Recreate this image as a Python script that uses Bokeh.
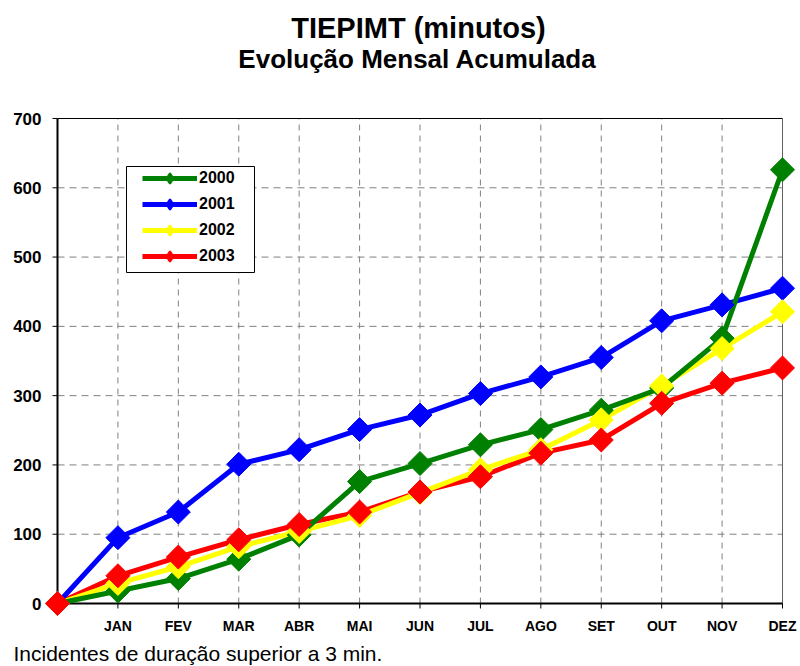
import math

from bokeh.core.properties import value
from bokeh.embed import file_html
from bokeh.models import ColumnDataSource, Label, Legend, LegendItem, Range1d
from bokeh.plotting import figure
from bokeh.resources import INLINE

# ---- data -----------------------------------------------------------------
months = ["JAN", "FEV", "MAR", "ABR", "MAI", "JUN",
          "JUL", "AGO", "SET", "OUT", "NOV", "DEZ"]
years = ["2000", "2001", "2002", "2003"]
acc_2000 = [0, 18, 36, 64, 99, 176, 202, 229, 251, 279, 311, 383, 626]
acc_2001 = [0, 95, 132, 201, 222, 251, 272, 303, 327, 355, 408, 431, 455]
acc_2002 = [0, 29, 53, 82, 104, 127, 160, 193, 222, 265, 314, 368, 421]
acc_2003 = [0, 40, 67, 92, 114, 132, 161, 183, 217, 236, 289, 318, 340]
y_ticks = [0, 100, 200, 300, 400, 500, 600, 700]

title_1 = "TIEPIMT (minutos)"
title_2 = "Evolução Mensal Acumulada"
footnote = "Incidentes de duração superior a 3 min."

# ---- layout ---------------------------------------------------------------
W, H = 800, 666
FONT = "Liberation Sans"
colors = ["#008000", "#0000FF", "#FFFF00", "#FF0000"]

# pixel box of the plotting area; the frame covers the whole canvas so the
# axis texts, titles and edge markers are never clipped
AX_L, AX_R, AX_T, AX_B = 57, 782, 118, 603

n_pts = len(months)
x_idx = list(range(n_pts + 1))  # 0 = start of the year
y_top = y_ticks[-1]

ppx = (AX_R - AX_L) / n_pts
ppy = (AX_B - AX_T) / y_top
x_range = Range1d(-AX_L / ppx, n_pts + (W - AX_R) / ppx)
y_range = Range1d(-(H - AX_B) / ppy, y_top + AX_T / ppy)


def px_x(sx):
    """canvas pixel column -> data x"""
    return (sx - AX_L) / ppx


def px_y(sy):
    """canvas pixel row -> data y"""
    return (AX_B - sy) / ppy


p = figure(width=W, height=H, x_range=x_range, y_range=y_range,
           output_backend="svg", toolbar_location=None,
           x_axis_location=None, y_axis_location=None,
           min_border=0, min_border_left=0, min_border_right=0,
           min_border_top=0, min_border_bottom=0)
p.title.visible = False
p.outline_line_color = None
p.background_fill_color = "white"
p.border_fill_color = "white"
p.grid.visible = False

# ---- grid and plot-area border -------------------------------------------
grid_x = x_idx[1:-1]
p.segment(x0=grid_x, y0=[0] * len(grid_x), x1=grid_x, y1=[y_top] * len(grid_x),
          line_color="#808080", line_width=1, line_dash="6 5")
grid_y = y_ticks[1:-1]
p.segment(x0=[0] * len(grid_y), y0=grid_y, x1=[n_pts] * len(grid_y), y1=grid_y,
          line_color="#808080", line_width=1, line_dash="7 5")
p.segment(x0=[0], y0=[y_top], x1=[n_pts], y1=[y_top],
          line_color="black", line_width=1)
p.segment(x0=[n_pts], y0=[0], x1=[n_pts], y1=[y_top],
          line_color="#606060", line_width=1)

# ---- axes: lines, ticks and tick labels -----------------------------------
TICK = 5
p.segment(x0=[0], y0=[0], x1=[n_pts], y1=[0], line_color="black", line_width=2)
p.segment(x0=[0], y0=[0], x1=[0], y1=[y_top], line_color="black", line_width=2)
tick_x = x_idx[1:]
p.segment(x0=tick_x, y0=[0] * len(tick_x), x1=tick_x,
          y1=[-TICK / ppy] * len(tick_x), line_color="black", line_width=1)
p.segment(x0=[0] * len(y_ticks), y0=y_ticks, x1=[-TICK / ppx] * len(y_ticks),
          y1=y_ticks, line_color="black", line_width=1)

p.text(x=tick_x, y=[0] * len(tick_x), text=months,
       x_offset=0, y_offset=22, text_align="center", text_baseline="alphabetic",
       text_font=value(FONT), text_font_style="bold", text_font_size="14px",
       text_color="black")
p.text(x=[0] * len(y_ticks), y=y_ticks, text=[str(t) for t in y_ticks],
       x_offset=-16, y_offset=0, text_align="right", text_baseline="alphabetic",
       text_font=value(FONT), text_font_style="bold", text_font_size="17px",
       text_color="black")

# ---- legend box -----------------------------------------------------------
LG_L, LG_R, LG_T, LG_B = 126, 254, 166, 272
p.quad(left=[px_x(LG_L)], right=[px_x(LG_R)], top=[px_y(LG_T)], bottom=[px_y(LG_B)],
       fill_color="white", line_color="black", line_width=1)

# ---- series ---------------------------------------------------------------
series = [acc_2000, acc_2001, acc_2002, acc_2003]
line_r, key_r = {}, {}
for name, vals, c in reversed(list(zip(years, series, colors))):
    src = ColumnDataSource(dict(x=x_idx, y=vals))
    line_r[name] = p.line("x", "y", source=src, line_color=c, line_width=5)
for name, vals, c in zip(years, series, colors):
    src = ColumnDataSource(dict(x=x_idx, y=vals))
    p.scatter("x", "y", source=src, marker="square", size=17,
              angle=math.pi / 4, fill_color=c, line_color=c)
    # diamond key shown only in the legend
    key_r[name] = p.scatter("x", "y", source=src, marker="diamond", size=12,
                            fill_color=c, line_color=c, line_width=2,
                            visible=False)

legend = Legend(items=[LegendItem(label=n, renderers=[line_r[n], key_r[n]])
                       for n in years],
                location=(142, H - LG_B + 3), orientation="vertical",
                padding=1, spacing=0, margin=0,
                glyph_width=55, glyph_height=26, label_standoff=2,
                label_text_font=FONT, label_text_font_style="bold",
                label_text_font_size="16px", label_text_color="black",
                border_line_color=None, background_fill_alpha=0)
p.add_layout(legend)

# ---- titles and note ------------------------------------------------------
for txt, cx, base, size in [(title_1, 418, 27, "29px"), (title_2, 417, 58, "26px")]:
    p.add_layout(Label(x=cx, y=H - base, x_units="screen", y_units="screen",
                       text=txt, text_align="center", text_baseline="alphabetic",
                       text_font=FONT, text_font_style="bold",
                       text_font_size=size, text_color="black"))
p.add_layout(Label(x=13, y=H - 653, x_units="screen", y_units="screen",
                   text=footnote, text_align="left", text_baseline="alphabetic",
                   text_font=FONT, text_font_style="normal",
                   text_font_size="21px", text_color="black"))

open("out.html", "w").write(file_html(p, INLINE))
